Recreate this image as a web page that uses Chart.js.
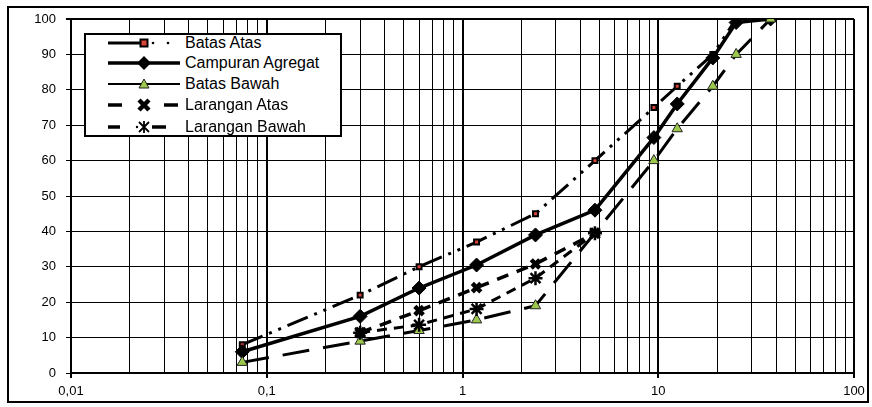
<!DOCTYPE html>
<html>
<head>
<meta charset="utf-8">
<script src="https://cdn.jsdelivr.net/npm/chart.js@4.4.0/dist/chart.umd.min.js"></script>
<style>
html,body{margin:0;padding:0;background:#fff;}
#wrap{position:relative;width:872px;height:407px;overflow:hidden;background:#fff;}
#c{position:absolute;left:0;top:0;}
#frame{position:absolute;left:7px;top:6px;width:858px;height:393px;border:2px solid #000;pointer-events:none;}
#legend{position:absolute;left:84px;top:33px;width:254px;height:100px;border:2px solid #000;background:#fff;
  font-family:"Liberation Sans",Arial,sans-serif;font-size:16px;color:#000;}
.row{position:absolute;left:0;height:21px;display:flex;align-items:center;white-space:nowrap;}
.row svg{margin-left:22px;flex:none;}
.row span{margin-left:5px;}
</style>
</head>
<body>
<div id="wrap">
  <canvas id="c" width="872" height="407"></canvas>
  <div id="frame"></div>
  <div id="legend"></div>
</div>
<script>
// ---- data ----
const sieveSizes   = [0.075, 0.3, 0.6, 1.18, 2.36, 4.75, 9.5, 12.5, 19, 25, 37.5];
const batasAtas    = [8, 22, 30, 37, 45, 60, 75, 81, 90, 100, 100];
const campuran     = [6, 16, 24, 30.5, 39, 46, 66.5, 76, 89, 99, 100];
const batasBawah   = [3, 9, 12, 15, 19, null, 60, 69, 81, 90, 100];
const laranganAtas = [null, 11.4, 17.6, 24.1, 30.8, 39.5, null, null, null, null, null];
const laranganBawah= [null, 11.4, 13.6, 18.1, 26.8, 39.5, null, null, null, null, null];
const seriesNames  = ['Batas Atas', 'Campuran Agregat', 'Batas Bawah', 'Larangan Atas', 'Larangan Bawah'];
const xTickValues  = [0.01, 0.1, 1, 10, 100];
const xTickLabels  = ['0,01', '0,1', '1', '10', '100'];
const yTickValues  = [0, 10, 20, 30, 40, 50, 60, 70, 80, 90, 100];

function pts(vals){
  const out = [];
  vals.forEach((v,i)=>{ if(v!==null) out.push({x: sieveSizes[i], y: v}); });
  return out;
}

const styles = [
  {dash:[22,7,3,7,3,7], width:3, pointStyle:'rect', radius:3.5, bg:'#d9453a', border:'#000', bw:2},
  {dash:[], width:3.5, pointStyle:'rectRot', radius:7, bg:'#000', border:'#000', bw:1},
  {dash:[27,14], width:3, pointStyle:'triangle', radius:6, bg:'#9cc84e', border:'#222', bw:1},
  {dash:[12,9], width:3.5, pointStyle:'crossRot', radius:6, bg:'#000', border:'#000', bw:4.5},
  {dash:[10,7], width:3, pointStyle:'star', radius:7, bg:'#000', border:'#000', bw:2.5}
];
const seriesData = [batasAtas, campuran, batasBawah, laranganAtas, laranganBawah];

const datasets = seriesData.map((vals,i)=>({
  label: seriesNames[i],
  data: pts(vals),
  borderColor:'#000',
  borderWidth: styles[i].width,
  borderDash: styles[i].dash,
  borderCapStyle:'butt',
  fill:false,
  tension:0,
  spanGaps:true,
  pointStyle: styles[i].pointStyle,
  pointRadius: styles[i].radius,
  pointBackgroundColor: styles[i].bg,
  pointBorderColor: styles[i].border,
  pointBorderWidth: styles[i].bw,
  order: 5 - i
}));

// minor log gridlines 1..9 per decade
const gridValues = [];
for (let d = 0; d < xTickValues.length - 1; d++) {
  for (let m = 1; m <= 9; m++) gridValues.push(xTickValues[d] * m);
}
gridValues.push(xTickValues[xTickValues.length - 1]);

function decadeIndex(v){
  return xTickValues.findIndex(d => Math.abs(v - d) / d < 1e-6);
}

const font = {family:'"Liberation Sans", Arial, sans-serif', size:13};

new Chart(document.getElementById('c'), {
  type:'line',
  data:{datasets},
  options:{
    responsive:false,
    animation:false,
    layout:{padding:{top:19, right:18, left:0, bottom:0}},
    plugins:{legend:{display:false}, tooltip:{enabled:false}},
    scales:{
      x:{
        type:'logarithmic', min:0.01, max:100,
        afterBuildTicks: s => { s.ticks = gridValues.map(v => ({value:v})); },
        afterFit: s => { s.height = 34; },
        ticks:{
          autoSkip:false, maxRotation:0, minRotation:0, color:'#000', font, padding:6,
          callback: (v) => { const k = decadeIndex(v); return k >= 0 ? xTickLabels[k] : ''; }
        },
        grid:{
          color:'#000',
          lineWidth: c => (c.tick && decadeIndex(c.tick.value) >= 0) ? 2 : 1,
          tickLength:5,
          tickColor: c => (c.tick && decadeIndex(c.tick.value) >= 0) ? '#000' : 'rgba(0,0,0,0)'
        },
        border:{color:'#000', width:2}
      },
      y:{
        min:0, max:100,
        afterBuildTicks: s => { s.ticks = yTickValues.map(v => ({value:v})); },
        afterFit: s => { s.width = 71; },
        ticks:{color:'#000', font, padding:10},
        grid:{color:'#000', lineWidth: c => (c.tick && c.tick.value === 100) ? 2 : 1, tickLength:5, tickColor:'#000'},
        border:{color:'#000', width:2}
      }
    }
  }
});

// ---- legend (HTML, drawn from the dataset styles) ----
const legend = document.getElementById('legend');
const rowCenters = [8, 28, 49, 70, 92];
function markerSvg(i, cx, cy){
  const s = styles[i];
  if (s.pointStyle === 'rect') return `<rect x="${cx-3.5}" y="${cy-3.5}" width="7" height="7" fill="${s.bg}" stroke="#000" stroke-width="2"/>`;
  if (s.pointStyle === 'rectRot') return `<polygon points="${cx},${cy-7} ${cx+7},${cy} ${cx},${cy+7} ${cx-7},${cy}" fill="#000"/>`;
  if (s.pointStyle === 'triangle') return `<polygon points="${cx},${cy-5} ${cx+5},${cy+4} ${cx-5},${cy+4}" fill="${s.bg}" stroke="#222" stroke-width="1"/>`;
  if (s.pointStyle === 'crossRot') return `<path d="M${cx-5},${cy-5}L${cx+5},${cy+5}M${cx+5},${cy-5}L${cx-5},${cy+5}" stroke="#000" stroke-width="4.5"/>`;
  return `<path d="M${cx-5},${cy-5}L${cx+5},${cy+5}M${cx+5},${cy-5}L${cx-5},${cy+5}M${cx},${cy-6}L${cx},${cy+6}" stroke="#000" stroke-width="1.8"/>`;
}
const legendLines = [
  `<line x1="0" y1="10" x2="32" y2="10" stroke="#000" stroke-width="3"/><circle cx="45" cy="10" r="1.3" fill="#000"/><circle cx="60" cy="10" r="1.3" fill="#000"/>`,
  `<line x1="0" y1="10" x2="72" y2="10" stroke="#000" stroke-width="3.5"/>`,
  `<line x1="0" y1="10" x2="72" y2="10" stroke="#000" stroke-width="2"/>`,
  `<line x1="0" y1="10" x2="14" y2="10" stroke="#000" stroke-width="3.5"/><line x1="56" y1="10" x2="70" y2="10" stroke="#000" stroke-width="3.5"/>`,
  `<line x1="0" y1="10" x2="12" y2="10" stroke="#000" stroke-width="3.5"/><circle cx="29" cy="10" r="1.2" fill="#000"/><line x1="44" y1="10" x2="58" y2="10" stroke="#000" stroke-width="3.5"/>`
];
seriesNames.forEach((name,i)=>{
  const row = document.createElement('div');
  row.className = 'row';
  row.style.top = (rowCenters[i] - 10.5) + 'px';
  row.innerHTML = `<svg width="72" height="20" viewBox="0 0 72 20">${legendLines[i]}${markerSvg(i, 36, 10)}</svg><span>${name}</span>`;
  legend.appendChild(row);
});
</script>
</body>
</html>
